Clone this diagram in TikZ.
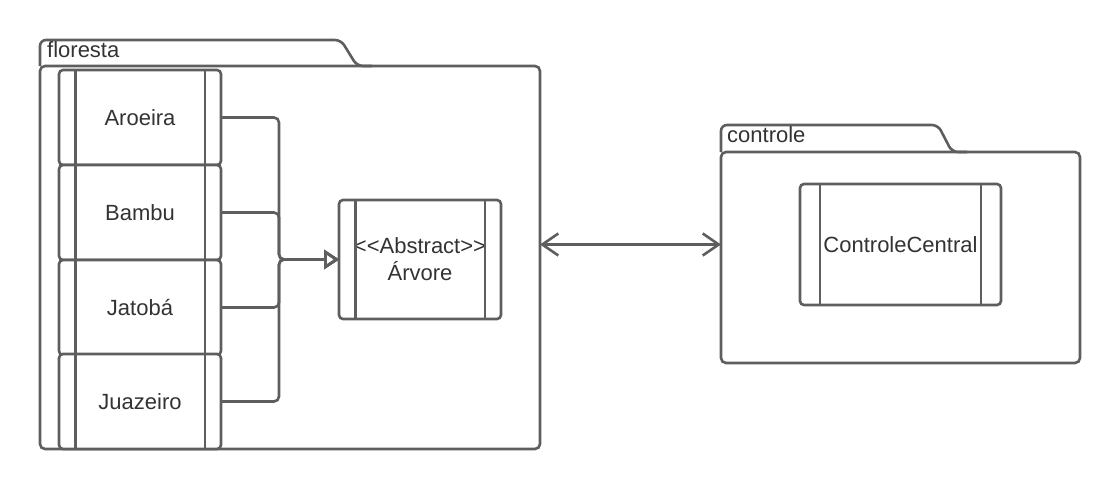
\documentclass[tikz,border=0pt]{standalone}
\usepackage{fontspec}
\setmainfont{Liberation Sans}
\usetikzlibrary{arrows.meta,calc}
\definecolor{ln}{HTML}{5E5E5E}
\definecolor{tx}{HTML}{333333}
\begin{document}
\begin{tikzpicture}[x=1pt,y=-1pt,
  every node/.style={font=\fontsize{22}{27}\selectfont, text=tx},
  pkg/.style={draw=ln, line width=2.6pt, rounded corners=5pt, inner sep=0pt, outer sep=0pt, anchor=north west, fill=white},
  tab/.style={draw=ln, line width=2.6pt, rounded corners=6pt},
  cls/.style={draw=ln, line width=2.6pt, rounded corners=4pt, inner sep=0pt, outer sep=0pt, fill=white, align=center},
  bar/.style={draw=ln, line width=2.6pt},
  conn/.style={draw=ln, line width=2.6pt, rounded corners=5pt},
  inh/.style={conn, -{Triangle[open, length=15pt, width=19pt]}},
  dbl/.style={draw=ln, line width=2.6pt, {Straight Barb[length=16pt,width=22pt]}-{Straight Barb[length=16pt,width=22pt]}},
]
\useasboundingbox (0,0) rectangle (1120,490);

% packages
\node[pkg, minimum width=500pt, minimum height=383pt] (floresta) at (40,66) {};
\draw[tab] (40,66) -- (40,40) -- (341,40) -- (357,66) -- (372,66);
\node[anchor=base west, inner sep=0pt] (florestalbl) at (47,57.5) {floresta};

\node[pkg, minimum width=359pt, minimum height=211pt] (controle) at (721,152) {};
\draw[tab] (721,152) -- (721,125) -- (938,125) -- (952,152) -- (967,152);
\node[anchor=base west, inner sep=0pt] (controlelbl) at (727,142) {controle};

% classes
\node[cls, minimum width=162pt, minimum height=95pt] (aroeira) at (140,117.5) {Aroeira};
\node[cls, minimum width=162pt, minimum height=95pt] (bambu) at (140,212.5) {Bambu};
\node[cls, minimum width=162pt, minimum height=95pt] (jatoba) at (140,307.5) {Jatobá};
\node[cls, minimum width=162pt, minimum height=95pt] (juazeiro) at (140,401.5) {Juazeiro};
\node[cls, minimum width=162pt, minimum height=119pt] (arvore) at (420,259.5) {<{}<Abstract>{}>\\Árvore};
\node[cls, minimum width=201pt, minimum height=121pt] (central) at (900.5,244.5) {ControleCentral};

\foreach \n in {aroeira,bambu,jatoba,juazeiro,arvore,central}{
  \draw[bar] ($(\n.north west)!0.1!(\n.north east)$) -- ($(\n.south west)!0.1!(\n.south east)$);
  \draw[bar] ($(\n.north west)!0.9!(\n.north east)$) -- ($(\n.south west)!0.9!(\n.south east)$);
}

% inheritance connectors
\coordinate (join) at (279,259.5);
\foreach \n in {aroeira,bambu,jatoba,juazeiro}{
  \draw[inh] (\n.east) -| (join) -- (arvore.west);
}

% association
\draw[dbl] (floresta.east |- central.center) -- (controle.west |- central.center);
\end{tikzpicture}
\end{document}
